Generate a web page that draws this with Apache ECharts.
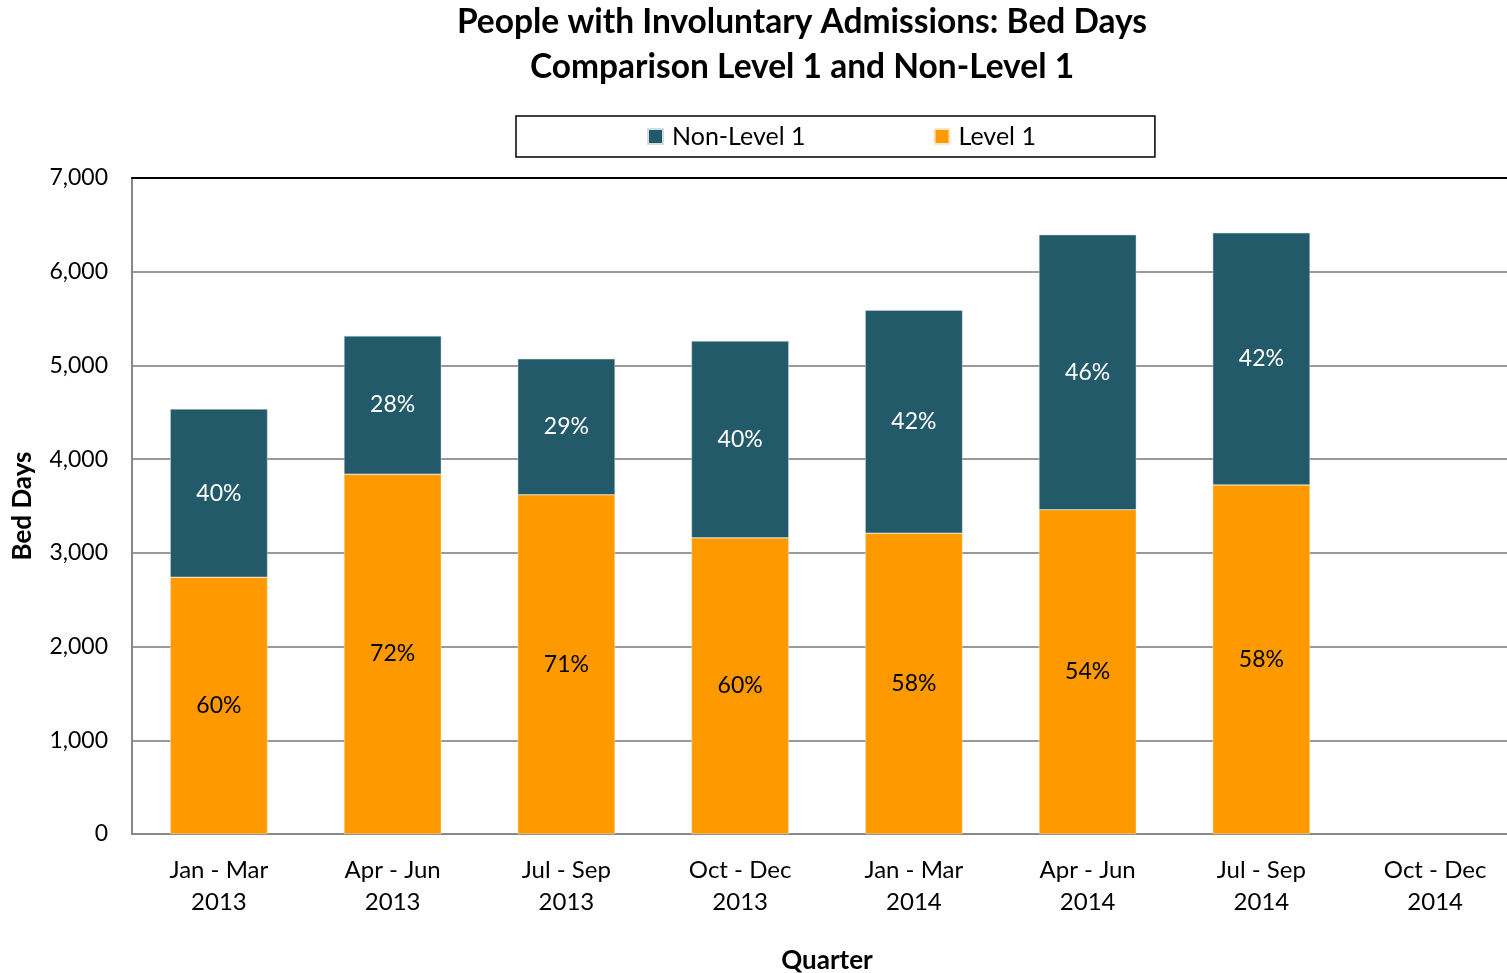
<!DOCTYPE html>
<html>
<head>
<meta charset="utf-8">
<script src="https://cdn.jsdelivr.net/npm/echarts@6/dist/echarts.min.js"></script>
<style>
html, body { margin: 0; padding: 0; background: #fff; }
#chart { width: 1507px; height: 973px; }
</style>
</head>
<body>
<div id="chart"></div>
<script>
// quarters on the x axis
var quarters = ["Jan - Mar\n2013", "Apr - Jun\n2013", "Jul - Sep\n2013", "Oct - Dec\n2013",
	"Jan - Mar\n2014", "Apr - Jun\n2014", "Jul - Sep\n2014", "Oct - Dec\n2014"];
// bed days
var level1 = [2740, 3840, 3620, 3160, 3210, 3460, 3725, null];
var nonLevel1 = [1795, 1475, 1450, 2100, 2380, 2935, 2690, null];
// percentage labels printed in the bars
var level1Pct = ["60%", "72%", "71%", "60%", "58%", "54%", "58%", ""];
var nonLevel1Pct = ["40%", "28%", "29%", "40%", "42%", "46%", "42%", ""];

var font = "Lato";
var chart = echarts.init(document.getElementById("chart"));
var option = {
	animation: false,
	textStyle: { fontFamily: font },
	title: {
		text: "People with Involuntary Admissions: Bed Days\nComparison Level 1 and Non-Level 1",
		left: 797,
		textAlign: "center",
		top: -5,
		textStyle: { fontFamily: font, fontSize: 33.5, fontWeight: "bold", color: "#000", lineHeight: 45 },
	},
	legend: {
		left: 516,
		top: 116,
		data: ["Non-Level 1", "Level 1"],
		itemWidth: 15,
		itemHeight: 15,
		itemGap: 128,
		padding: [8, 119, 8, 131],
		borderColor: "#000",
		borderWidth: 1.5,
		textStyle: { fontFamily: font, fontSize: 25, color: "#000", padding: [0, 0, 0, 4] },
		icon: "rect",
	},
	grid: { left: 132, right: -15, top: 178, bottom: 139, containLabel: false, outerBoundsMode: "none" },
	xAxis: [
		{
			type: "category",
			data: quarters,
			name: "Quarter",
			nameLocation: "middle",
			nameGap: 114,
			nameTextStyle: { fontFamily: font, fontSize: 26, fontWeight: "bold", color: "#000" },
			axisLine: { show: true, lineStyle: { color: "#888", width: 2 } },
			axisTick: { show: false },
			axisLabel: { fontFamily: font, fontSize: 24, color: "#000", lineHeight: 32, margin: 20, interval: 0 },
		},
		{
			type: "category",
			position: "top",
			data: quarters,
			axisLine: { show: true, lineStyle: { color: "#000", width: 2 } },
			axisTick: { show: false },
			axisLabel: { show: false },
		},
	],
	yAxis: {
		type: "value",
		min: 0,
		max: 7000,
		interval: 1000,
		name: "Bed Days",
		nameLocation: "middle",
		nameGap: 96,
		nameTextStyle: { fontFamily: font, fontSize: 26, fontWeight: "bold", color: "#000" },
		axisLine: { show: true, lineStyle: { color: "#888", width: 2 } },
		axisTick: { show: false },
		axisLabel: {
			fontFamily: font,
			fontSize: 23,
			color: "#000",
			margin: 24,
			formatter: function (v) { return v.toLocaleString("en-US"); },
		},
		splitLine: { show: true, lineStyle: { color: "#999", width: 2 } },
	},
	series: [
		{
			name: "Level 1",
			type: "bar",
			stack: "total",
			barWidth: "56%",
			data: level1,
			itemStyle: { color: "#fe9900", borderColor: "#fde9c8", borderWidth: 0.5 },
			label: {
				show: true,
				position: "inside",
				fontFamily: font,
				fontSize: 23,
				color: "#000",
				formatter: function (p) { return level1Pct[p.dataIndex]; },
			},
		},
		{
			name: "Non-Level 1",
			type: "bar",
			stack: "total",
			barWidth: "56%",
			data: nonLevel1,
			itemStyle: { color: "#225a69", borderColor: "#cfdde3", borderWidth: 0.5 },
			label: {
				show: true,
				position: "inside",
				fontFamily: font,
				fontSize: 23,
				color: "#fff",
				formatter: function (p) { return nonLevel1Pct[p.dataIndex]; },
			},
		},
	],
};
chart.setOption(option);
</script>
</body>
</html>
